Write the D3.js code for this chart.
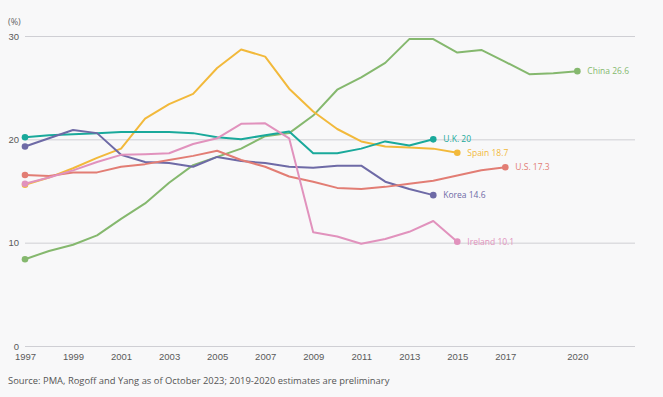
<!DOCTYPE html>
<html>
<head>
<meta charset="utf-8">
<script src="https://cdn.jsdelivr.net/npm/d3@7"></script>
<style>
  body { margin: 0; background: #f8f8f9; }
  svg { display: block; font-family: "Open Sans", Roboto, sans-serif; }
</style>
</head>
<body>
<div id="chart"></div>
<script>
// Data (% share)
var yearsAll = d3.range(1997, 2021)
var tickYears = [1997, 1999, 2001, 2003, 2005, 2007, 2009, 2011, 2013, 2015, 2017, 2020]
var yTicks = [0, 10, 20, 30]

var china = [8.4, 9.2, 9.8, 10.7, 12.3, 13.8, 15.8, 17.5, 18.3, 19.1, 20.3, 20.6, 22.3, 24.8, 26.0, 27.4, 29.7, 29.7, 28.4, 28.65, 27.5, 26.3, 26.4, 26.6]
var spain = [15.6, 16.3, 17.2, 18.2, 19.1, 22.0, 23.4, 24.4, 26.9, 28.7, 28.0, 24.9, 22.7, 21.0, 19.8, 19.3, 19.2, 19.1, 18.7]
var uk = [20.2, 20.4, 20.5, 20.6, 20.7, 20.7, 20.7, 20.6, 20.2, 20.0, 20.4, 20.75, 18.65, 18.65, 19.1, 19.8, 19.4, 20.0]
var korea = [19.3, 20.1, 20.9, 20.6, 18.5, 17.8, 17.7, 17.35, 18.3, 17.9, 17.7, 17.35, 17.25, 17.45, 17.45, 15.9, 15.2, 14.6]
var us = [16.55, 16.45, 16.8, 16.8, 17.35, 17.6, 18.0, 18.4, 18.9, 18.0, 17.35, 16.4, 15.9, 15.3, 15.2, 15.4, 15.7, 16.0, 16.5, 17.0, 17.3]
var ireland = [15.7, 16.3, 17.0, 17.8, 18.5, 18.55, 18.65, 19.55, 20.1, 21.5, 21.55, 20.1, 11.0, 10.6, 9.9, 10.35, 11.05, 12.1, 10.1]

var seriesNames = ['China', 'Spain', 'U.K.', 'Korea', 'U.S.', 'Ireland']
var seriesValues = [china, spain, uk, korea, us, ireland]
var seriesLabels = ['China 26.6', 'Spain 18.7', 'U.K. 20', 'Korea 14.6', 'U.S. 17.3', 'Ireland 10.1']
var colors = ['#85b86e', '#f2b93b', '#1aa99b', '#6e6aa6', '#e27d74', '#e192bd']

var width = 663, height = 397
var margin = {top: 36, right: 28, bottom: 51, left: 25}

var x = d3.scaleLinear()
  .domain([1997, 2022.4])
  .range([margin.left, width - margin.right])

var y = d3.scaleLinear()
  .domain([0, 30])
  .range([height - margin.bottom, margin.top])

var svg = d3.select('#chart').append('svg')
  .attr('width', width)
  .attr('height', height)

svg.append('rect')
  .attr('width', width)
  .attr('height', height)
  .attr('fill', '#f8f8f9')

// Grid + y labels
var yAxis = d3.axisLeft(y)
  .tickValues(yTicks)
  .tickSize(-(width - margin.right - margin.left))
  .tickPadding(6)

var gy = svg.append('g')
  .attr('transform', 'translate(' + margin.left + ',0)')
  .call(yAxis)
gy.select('.domain').remove()
gy.selectAll('line').attr('stroke', '#cfcfd4').attr('stroke-width', 1)
gy.selectAll('text')
  .attr('font-size', '9.5px')
  .attr('fill', '#5a5a5a')

// X labels
var xAxis = d3.axisBottom(x)
  .tickValues(tickYears)
  .tickFormat(d3.format('d'))
  .tickSize(0)
  .tickPadding(7)

var gx = svg.append('g')
  .attr('transform', 'translate(0,' + y(0) + ')')
  .call(xAxis)
gx.select('.domain').remove()
gx.selectAll('text')
  .attr('font-size', '9.5px')
  .attr('fill', '#5a5a5a')

svg.append('text')
  .attr('x', 8)
  .attr('y', 25)
  .attr('font-size', '9px')
  .attr('fill', '#666')
  .text('(%)')

// Lines
var line = d3.line()
  .x(function(d) { return x(d.year) })
  .y(function(d) { return y(d.value) })

seriesValues.forEach(function(vals, i) {
  var pts = vals.map(function(v, j) { return {year: yearsAll[j], value: v} })
  var first = pts[0]
  var last = pts[pts.length - 1]
  var g = svg.append('g')

  g.append('path')
    .datum(pts)
    .attr('d', line)
    .attr('fill', 'none')
    .attr('stroke', colors[i])
    .attr('stroke-width', 2)
    .attr('stroke-linejoin', 'round')

  g.selectAll('circle')
    .data([first, last])
    .enter().append('circle')
    .attr('cx', function(d) { return x(d.year) })
    .attr('cy', function(d) { return y(d.value) })
    .attr('r', 3.3)
    .attr('fill', colors[i])

  g.append('text')
    .attr('x', x(last.year) + 10)
    .attr('y', y(last.value) + 3)
    .attr('font-size', '8.5px')
    .attr('fill', colors[i])
    .text(seriesLabels[i])
})

svg.append('text')
  .attr('x', 8)
  .attr('y', 384)
  .attr('font-size', '9.4px')
  .attr('fill', '#555')
  .text('Source: PMA, Rogoff and Yang as of October 2023; 2019-2020 estimates are preliminary')
</script>
</body>
</html>
